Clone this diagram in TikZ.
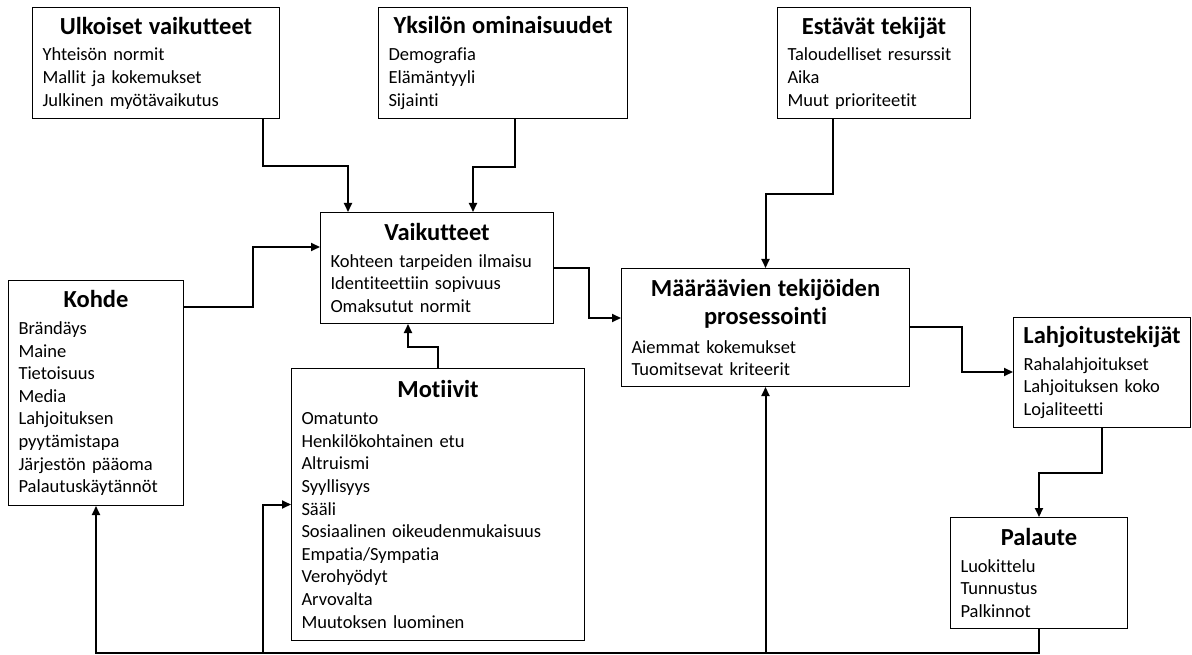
\documentclass[tikz,border=0pt]{standalone}
\usepackage{fontspec}
\setmainfont{Carlito}[Ligatures={NoCommon,NoRare,NoContextual}]
\usepackage{tikz}
\usetikzlibrary{arrows.meta, positioning}

\newcommand{\itemfont}{\fontsize{18.5}{22.6}\selectfont}
\newcommand{\headfont}{\bfseries\fontsize{24.5}{29}\selectfont}
\newcommand{\boxhead}[2][4.3pt]{\makebox[\hsize]{\headfont #2}\\[#1]}

\tikzstyle{factor} = [rectangle, draw=black, line width=1pt, anchor=north west, align=left, inner xsep=10pt, inner ysep=0pt, font=\itemfont]
\tikzstyle{arrow} = [line width=2pt,->,>={Stealth[length=9pt,width=8pt,inset=0pt]}]

\begin{document}
\begin{tikzpicture}[x=1pt, y=-1pt]
\useasboundingbox (0,0) rectangle (1192,655);

\node (ulkoiset) [factor, text width=227pt, minimum height=111pt] at (32,7) {\boxhead{Ulkoiset vaikutteet}Yhteisön normit\\Mallit ja kokemukset\\Julkinen myötävaikutus};
\node (yksilo) [factor, text width=229pt, minimum height=111pt, right=98pt of ulkoiset.north east, anchor=north west] {\boxhead{Yksilön ominaisuudet}Demografia\\Elämäntyyli\\Sijainti};
\node (estavat) [factor, text width=173pt, minimum height=111pt, right=149pt of yksilo.north east, anchor=north west] {\boxhead{Estävät tekijät}Taloudelliset resurssit\\Aika\\Muut prioriteetit};
\node (vaikutteet) [factor, text width=213pt, minimum height=111pt] at (320,212) {\boxhead{Vaikutteet}Kohteen tarpeiden ilmaisu\\Identiteettiin sopivuus\\Omaksutut normit};
\node (kohde) [factor, text width=155pt, minimum height=225pt] at (8,280) {\boxhead{Kohde}Brändäys\\Maine\\Tietoisuus\\Media\\Lahjoituksen\\pyytämistapa\\Järjestön pääoma\\Palautuskäytännöt};
\node (motiivit) [factor, text width=273pt, minimum height=272pt] at (291,368) {\boxhead{Motiivit}Omatunto\\Henkilökohtainen etu\\Altruismi\\Syyllisyys\\Sääli\\Sosiaalinen oikeudenmukaisuus\\Empatia/Sympatia\\Verohyödyt\\Arvovalta\\Muutoksen luominen};
\node (maaraavat) [factor, text width=268pt, minimum height=118pt] at (621,268) {\boxhead[5.5pt]{Määräävien tekijöiden}\boxhead[6pt]{prosessointi}Aiemmat kokemukset\\Tuomitsevat kriteerit};
\node (lahjoitus) [factor, text width=157pt, minimum height=110pt] at (1013,317) {\boxhead{Lahjoitustekijät}Rahalahjoitukset\\Lahjoituksen koko\\Lojaliteetti};
\node (palaute) [factor, text width=157pt, minimum height=111pt] at (950,517) {\boxhead{Palaute}Luokittelu\\Tunnustus\\Palkinnot};

\coordinate (pohja) at (0,653);
\coordinate (motiivihaara) at ([xshift=-28pt]motiivit.west);

\draw [arrow] ([xshift=-17pt]ulkoiset.south east) -- ++(0,47) -| ([xshift=28pt]vaikutteet.north west);
\draw [arrow] ([xshift=12pt]yksilo.south) -- ++(0,48) -| ([xshift=153pt]vaikutteet.north west);
\draw [arrow] ([xshift=56pt]estavat.south west) -- ++(0,75) -| (maaraavat.north);
\draw [arrow] ([yshift=-27pt]kohde.north east) -- ++(69,0) |- ([yshift=-35pt]vaikutteet.north west);
\draw [arrow] (motiivit.north) -- ++(0,-21) -| ([xshift=88pt]vaikutteet.south west);
\draw [arrow] ([yshift=-56pt]vaikutteet.north east) -- ++(35,0) |- ([yshift=-50pt]maaraavat.north west);
\draw [arrow] ([yshift=-59pt]maaraavat.north east) -- ++(52,0) |- ([yshift=-55pt]lahjoitus.north west);
\draw [arrow] (lahjoitus.south) -- ++(0,45) -| (palaute.north);
\draw [arrow] (palaute.south) -- (palaute.south |- pohja) -| (kohde.south);
\draw [arrow] (motiivihaara |- pohja) |- (motiivit.west);
\draw [arrow] (maaraavat.south |- pohja) -- (maaraavat.south);

\end{tikzpicture}
\end{document}
